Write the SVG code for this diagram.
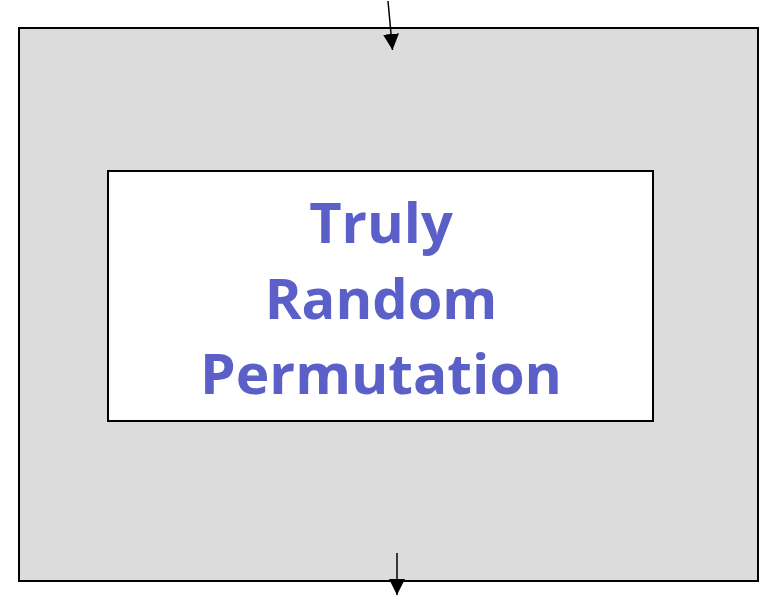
<svg xmlns="http://www.w3.org/2000/svg" width="763" height="595" viewBox="0 0 763 595">
  <style>
    .box { stroke: #000; stroke-width: 2; }
    .label { font-family: "Comic Sans MS", "Open Sans", "DejaVu Sans", sans-serif; font-weight: bold; font-size: 56px; fill: #5b5fc8; text-anchor: middle; }
    .edge { stroke: #000; stroke-width: 1.5; fill: none; }
  </style>
  <defs>
    <marker id="arrow" viewBox="0 0 10 10" refX="10" refY="5" markerWidth="16" markerHeight="16" markerUnits="userSpaceOnUse" orient="auto">
      <path d="M0,0 L10,5 L0,10 Z" fill="#000"/>
    </marker>
  </defs>
  <rect width="763" height="595" fill="#fff"/>
  <g id="outer">
    <rect class="box" x="19" y="28" width="739" height="553" fill="#dcdcdc"/>
  </g>
  <g id="permutation">
    <rect class="box" x="108" y="171" width="545" height="250" fill="#fff"/>
    <text class="label" x="381" y="243">Truly</text>
    <text class="label" x="381" y="319">Random</text>
    <text class="label" x="381" y="394" textLength="362" lengthAdjust="spacingAndGlyphs">Permutation</text>
  </g>
  <g id="connectors">
    <line class="edge" x1="388" y1="1" x2="392.5" y2="50" marker-end="url(#arrow)"/>
    <line class="edge" x1="397" y1="553" x2="397" y2="595" marker-end="url(#arrow)"/>
  </g>
</svg>
